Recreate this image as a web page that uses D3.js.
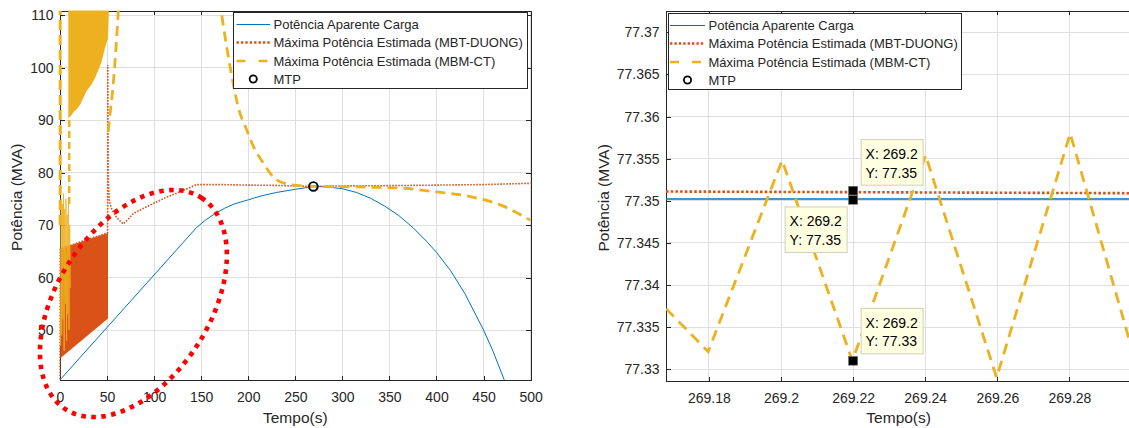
<!DOCTYPE html>
<html><head><meta charset="utf-8">
<script src="https://cdn.jsdelivr.net/npm/d3@7"></script>
<style>
body{margin:0;background:#fff}
svg{display:block}
text{font-family:"Liberation Sans",Arial,Helvetica,sans-serif;fill:#262626}
</style>
</head><body>
<svg id="c" width="1129" height="428"></svg>
<script>
// ---------------- DATA ----------------
// Left panel (full simulation)
const xTicksL = [0,50,100,150,200,250,300,350,400,450,500];
const xLabelsL = ["0","50","100","150","200","250","300","350","400","450","500"];
const yTicksL = [50,60,70,80,90,100,110];
const yLabelsL = ["50","60","70","80","90","100","110"];

// Potência Aparente Carga
const loadT = [0,145,155,165,175,185,200,215,230,250,270,285,300,315,330,345,360,375,390,400,415,430,450,460,472];
const loadV = [40.5,69.5,71.0,72.2,73.2,74.0,74.8,75.6,76.2,76.8,77.35,77.25,76.9,76.2,75.1,73.6,71.8,69.5,66.8,64.8,61.3,57.0,50.0,46.0,40.5];

// Máxima Potência Estimada (MBT-DUONG): oscillation envelope 0-51 s, then line
const duongBandT = [0.3,51];
const duongBandLow = [44.6,52.2];
const duongBandHigh = [65.5,68.5];
const duongT = [0,0.3, 50.6,50.7,51,51.5,52.5,55,60,67,72,78,90,113,130,145,170,200,230,260,269.2,300,350,400,450,500];
const duongV = [40.6,65.5, 68.5,100.5,88,78,74.5,73,71.5,70.2,71.0,72.2,73.3,75.3,76.5,77.7,77.7,77.6,77.55,77.4,77.35,77.45,77.5,77.6,77.7,77.95];

// Máxima Potência Estimada (MBM-CT)
const ctT = [51.3,53.1,55.6,58.4,60.5,62,64,80,120,160,166,171,177,184,190,197,206,216,230,245,260,269.2,300,330,365,400,436,471,492,500];
const ctV = [87.8,91,95,101,106.5,110.9,116,135,150,125,116,110.9,104,97,92,88.7,84.8,81.8,78.6,77.7,77.45,77.35,77.3,77.2,77.0,76.3,75.4,73.6,71.7,70.9];
// MBM-CT saturated oscillation region (lower envelope, clipped at top)
const ctFillT = [8.8,12,15,18,21.3,25,28,33,37.2,41,44,47.8,51,52];
const ctFillLow = [90.3,90.9,91.6,92.1,92.9,94.3,95.5,96.6,98.0,99.6,101,103.7,105.6,110.9];
// MBM-CT early oscillation traces
const ctSpikeAT = [0.2,0.2], ctSpikeAV = [70,110.9];
const ctSpikeBT = [9.8,9.8], ctSpikeBV = [74,90.3];
const ctNoiseT = [0.5,1.2,1.8,2.5,3.1,3.8,4.4,5.0,5.7,6.3,7.0,7.6,8.3,8.9,9.6,10.3,11.0];
const ctNoiseV = [47,75,49,74,52,76,46,73,55,75,48,72,53,74,50,70,58];

// MTP
const mtpT = [269.2], mtpV = [77.35];

// Highlight ellipse (centre in data units)
const ellipseT = 78, ellipseV = 55.05;

// Right panel (zoom around MTP)
const xTicksR = [269.18,269.2,269.22,269.24,269.26,269.28];
const xLabelsR = ["269.18","269.2","269.22","269.24","269.26","269.28"];
const yTicksR = [77.33,77.335,77.34,77.345,77.35,77.355,77.36,77.365,77.37];
const yLabelsR = ["77.33","77.335","77.34","77.345","77.35","77.355","77.36","77.365","77.37"];
const zoomT = [269.1681,269.2966];
const zoomLoadV = [77.3502,77.3502];
const zoomDuongV = [77.3511,77.3509];
const zoomCtT = [269.1681,269.1798,269.2003,269.2198,269.2401,269.2598,269.2802,269.2966];
const zoomCtV = [77.3372,77.3321,77.3548,77.3310,77.3554,77.3290,77.3580,77.3335];
const tipT = [269.22,269.22,269.22];
const tipV = [77.3512,77.3501,77.3310];
const tipText = [["X: 269.2","Y: 77.35"],["X: 269.2","Y: 77.35"],["X: 269.2","Y: 77.33"]];

const legendLabels = ["Potência Aparente Carga","Máxima Potência Estimada (MBT-DUONG)","Máxima Potência Estimada (MBM-CT)","MTP"];

// ---------------- STYLE ----------------
const C_BLUE="#0072BD", C_ORANGE="#D95319", C_YELLOW="#EDB120", AX="#262626", GRID="#DFDFDF";
const svg = d3.select("#c");

const xL = d3.scaleLinear().domain([0,500]).range([60,530.6]);
const yL = d3.scaleLinear().domain([40.48,110.86]).range([380,10.5]);
const xR = d3.scaleLinear().domain([269.1681,269.2966]).range([666,1129.3]);
const yR = d3.scaleLinear().domain([77.32861,77.37256]).range([381,10.7]);

function zip(a,b){return a.map((d,i)=>[d,b[i]]);}

function frame(x,y,xt,xl,yt,yl,opts){
  const g = svg.append("g");
  const [x0,x1]=x.range(), [y0,y1]=y.range();
  // grid
  g.append("g").selectAll("line").data(xt).join("line")
    .attr("x1",d=>x(d)).attr("x2",d=>x(d)).attr("y1",y0).attr("y2",y1)
    .attr("stroke",GRID).attr("shape-rendering","crispEdges");
  g.append("g").selectAll("line").data(yt).join("line")
    .attr("y1",d=>y(d)).attr("y2",d=>y(d)).attr("x1",x0).attr("x2",x1)
    .attr("stroke",GRID).attr("shape-rendering","crispEdges");
  const style = sel=>{sel.selectAll("path,line").attr("stroke",AX).attr("shape-rendering","crispEdges");
    sel.selectAll("text").attr("fill",AX).style("font-size","14px").style("font-family","'Liberation Sans',Arial,sans-serif");};
  g.append("g").attr("transform",`translate(0,${y0})`)
    .call(d3.axisBottom(x).tickValues(xt).tickFormat((d,i)=>xl[i]).tickSizeInner(-4.5).tickSizeOuter(0).tickPadding(12)).call(style);
  g.append("g").attr("transform",`translate(${x0},0)`)
    .call(d3.axisLeft(y).tickValues(yt).tickFormat((d,i)=>yl[i]).tickSizeInner(-4.5).tickSizeOuter(0).tickPadding(6.5)).call(style);
  g.append("g").attr("transform",`translate(0,${y1})`)
    .call(d3.axisTop(x).tickValues(xt).tickFormat("").tickSizeInner(-4.5).tickSizeOuter(0)).call(style);
  if(opts.right){
    g.append("g").attr("transform",`translate(${x1},0)`)
      .call(d3.axisRight(y).tickValues(yt).tickFormat("").tickSizeInner(-4.5).tickSizeOuter(0)).call(style);
  }
  g.selectAll(".domain").attr("fill","none");
  // labels
  g.append("text").attr("x",(x0+x1)/2 + (opts.xlabDx||0)).attr("y",422.5).attr("text-anchor","middle")
    .style("font-size","15.5px").text("Tempo(s)");
  g.append("text").attr("transform",`translate(${opts.ylabX},${(y0+y1)/2 + 2}) rotate(-90)`)
    .attr("text-anchor","middle").attr("dy","0.35em").style("font-size","15.5px").text("Potência (MVA)");
}

frame(xL,yL,xTicksL,xLabelsL,yTicksL,yLabelsL,{right:true,ylabX:17});
frame(xR,yR,xTicksR,xLabelsR,yTicksR,yLabelsR,{right:false,ylabX:604,xlabDx:1});

// clip paths
const defs = svg.append("defs");
defs.append("clipPath").attr("id","clipL").append("rect")
  .attr("x",58).attr("y",10.5).attr("width",530.6-58).attr("height",380-10.5);
defs.append("clipPath").attr("id","clipR").append("rect")
  .attr("x",666).attr("y",10.7).attr("width",1129.3-666).attr("height",381-10.7);

// ---------------- LEFT PANEL DATA ----------------
const gL = svg.append("g").attr("clip-path","url(#clipL)");
const lineL = d3.line().x(d=>xL(d[0])).y(d=>yL(d[1]));

gL.append("path").datum(zip(loadT,loadV))
  .attr("d",lineL)
  .attr("fill","none").attr("stroke",C_BLUE).attr("stroke-width",1).attr("stroke-linejoin","round");

// DUONG band
gL.append("path").datum(duongBandT.map((t,i)=>({t,lo:duongBandLow[i],hi:duongBandHigh[i]})))
  .attr("d",d3.area().x(d=>xL(d.t)).y0(d=>yL(d.lo)).y1(d=>yL(d.hi)))
  .attr("fill",C_ORANGE);
gL.append("path").datum(zip(duongT,duongV))
  .attr("d",lineL)
  .attr("fill","none").attr("stroke",C_ORANGE).attr("stroke-width",1.6).attr("stroke-dasharray","1.6,1.4");

// CT saturated region
gL.append("path").datum(zip(ctFillT,ctFillLow))
  .attr("d",d3.area().x(d=>xL(d[0])).y0(d=>yL(d[1])).y1(yL(112)))
  .attr("fill",C_YELLOW);
gL.append("path").datum(zip(ctNoiseT,ctNoiseV))
  .attr("d",lineL).attr("fill","none").attr("stroke",C_YELLOW).attr("stroke-width",0.9).attr("opacity",0.9);
gL.append("path").datum(zip(ctSpikeAT,ctSpikeAV))
  .attr("d",lineL).attr("fill","none").attr("stroke",C_YELLOW).attr("stroke-width",3).attr("stroke-dasharray","10,5");
gL.append("path").datum(zip(ctSpikeBT,ctSpikeBV))
  .attr("d",lineL).attr("fill","none").attr("stroke",C_YELLOW).attr("stroke-width",2.5).attr("stroke-dasharray","7,4");
gL.append("path").datum(zip(ctT,ctV))
  .attr("d",d3.line().x(d=>xL(d[0])).y(d=>yL(d[1])).curve(d3.curveMonotoneX))
  .attr("fill","none").attr("stroke",C_YELLOW).attr("stroke-width",2.8).attr("stroke-dasharray","10,6");

// MTP
svg.append("g").selectAll("circle").data(zip(mtpT,mtpV)).join("circle")
  .attr("cx",d=>xL(d[0])).attr("cy",d=>yL(d[1])).attr("r",4.3)
  .attr("fill","none").attr("stroke","#000").attr("stroke-width",1.9);

// ---------------- RIGHT PANEL DATA ----------------
const gR = svg.append("g").attr("clip-path","url(#clipR)");
const lineR = d3.line().x(d=>xR(d[0])).y(d=>yR(d[1]));
gR.append("path").datum(zip(zoomT,zoomLoadV)).attr("d",lineR)
  .attr("fill","none").attr("stroke",C_BLUE).attr("stroke-width",1.5);
gR.append("path").datum(zip(zoomT,zoomDuongV)).attr("d",lineR)
  .attr("fill","none").attr("stroke",C_ORANGE).attr("stroke-width",2.6).attr("stroke-dasharray","2.6,2.1");
gR.append("path").datum(zip(zoomCtT,zoomCtV)).attr("d",lineR)
  .attr("fill","none").attr("stroke",C_YELLOW).attr("stroke-width",2.8).attr("stroke-dasharray","11,7");

// data tips
const tipPlace = [{dx:8,dy:-5.5,anchor:"bl"},{dx:-6,dy:7,anchor:"tr"},{dx:8,dy:-7,anchor:"bl"}];
const tipW=62, tipH=45.5;
tipT.forEach((t,i)=>{
  const px=xR(t), py=yR(tipV[i]);
  svg.append("rect").attr("x",px-4.5).attr("y",py-4.3).attr("width",9).attr("height",8.6)
    .attr("fill","#000").attr("stroke","#6b6b5a").attr("stroke-width",0.6);
});
tipT.forEach((t,i)=>{
  const px=xR(t), py=yR(tipV[i]);
  const p=tipPlace[i];
  let bx,by;
  if(p.anchor==="bl"){bx=px+p.dx; by=py+p.dy-tipH;} else {bx=px+p.dx-tipW; by=py+p.dy;}
  const g=svg.append("g");
  g.append("rect").attr("x",bx).attr("y",by).attr("width",tipW).attr("height",tipH)
    .attr("fill","#FFFFE1").attr("stroke","#CFCFB8").attr("stroke-width",1);
  tipText[i].forEach((s,k)=>{
    g.append("text").attr("x",bx+4.5).attr("y",by+19.5+k*18.5).style("font-size","14px").style("fill","#000").text(s);
  });
});

// ---------------- LEGENDS ----------------
function legend(x0,y0,w,h,sx0,sx1,tx){
  const g=svg.append("g");
  g.append("rect").attr("x",x0).attr("y",y0).attr("width",w).attr("height",h)
    .attr("fill","#fff").attr("stroke",AX).attr("stroke-width",1).attr("shape-rendering","crispEdges");
  const rows=[y0+12,y0+30,y0+48.5,y0+66.5];
  g.append("line").attr("x1",sx0).attr("x2",sx1).attr("y1",rows[0]).attr("y2",rows[0]).attr("stroke",C_BLUE).attr("stroke-width",1.2);
  g.append("line").attr("x1",sx0).attr("x2",sx1).attr("y1",rows[1]).attr("y2",rows[1]).attr("stroke",C_ORANGE).attr("stroke-width",2.4).attr("stroke-dasharray","2.4,2");
  g.append("line").attr("x1",sx0).attr("x2",sx1).attr("y1",rows[2]).attr("y2",rows[2]).attr("stroke",C_YELLOW).attr("stroke-width",2.6).attr("stroke-dasharray","9,13");
  g.append("circle").attr("cx",(sx0+sx1)/2).attr("cy",rows[3]).attr("r",3.6).attr("fill","none").attr("stroke","#000").attr("stroke-width",1.8);
  legendLabels.forEach((s,i)=>{
    g.append("text").attr("x",tx).attr("y",rows[i]).attr("dy","0.36em").style("font-size","13px").text(s);
  });
}
legend(233.5,12.5,294,76,236.5,270,273.5);
legend(668,13.5,293,76,670,705,708.5);

// ---------------- HIGHLIGHT ELLIPSE ----------------
svg.append("ellipse")
  .attr("transform",`translate(${xL(ellipseT)},${yL(ellipseV)}) rotate(-57.3)`)
  .attr("rx",125.7).attr("ry",76.3)
  .attr("fill","none").attr("stroke","#FF0000").attr("stroke-width",4.6).attr("stroke-dasharray","4.6,5.4");
</script>
</body></html>
